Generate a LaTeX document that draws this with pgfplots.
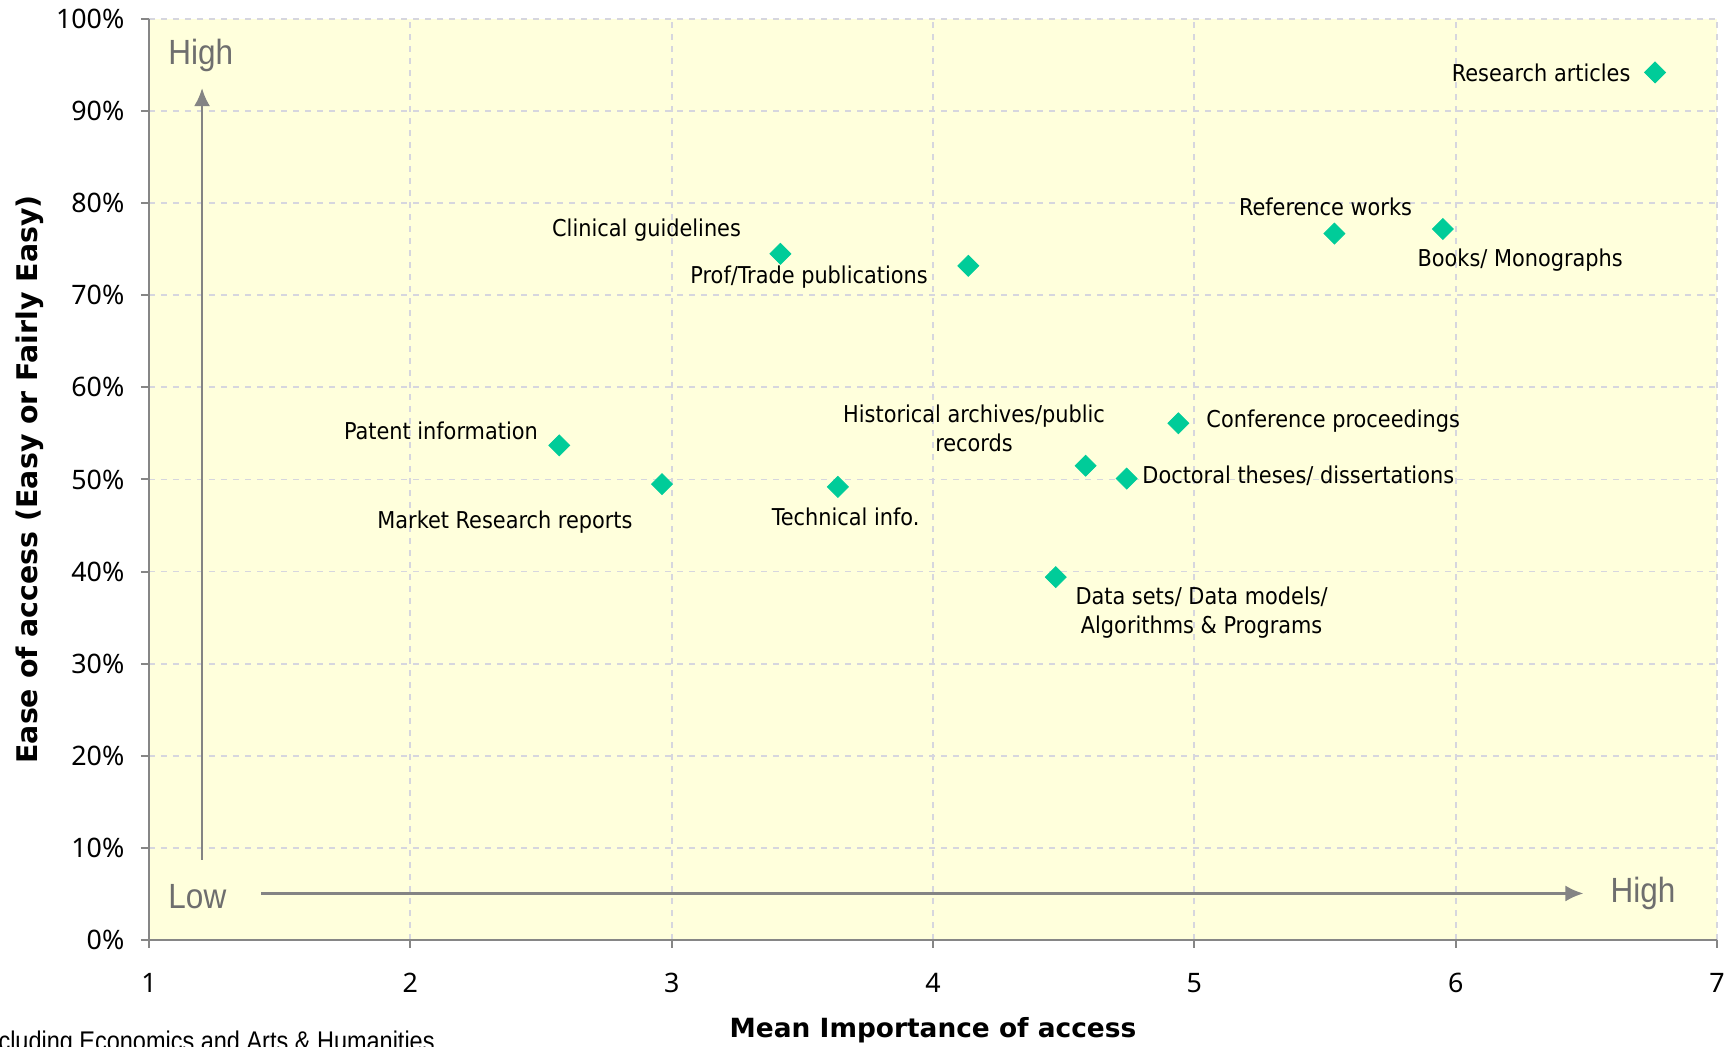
\documentclass[border=0pt]{standalone}
\usepackage{fontspec}
\setmainfont{DejaVu Sans}
\newfontfamily\labelfont{DejaVu Sans Condensed}
\newfontfamily\tickfont{Noto Sans}
\newfontfamily\narrowfont[FakeStretch=0.9]{Liberation Sans}
\newfontfamily\notefont[FakeStretch=0.87]{Liberation Sans}
\usepackage{pgfplots}
\pgfplotsset{compat=1.18}
\usetikzlibrary{arrows.meta}
\definecolor{bgyel}{HTML}{FFFFDC}
\definecolor{mk}{HTML}{00CC99}
\definecolor{axgray}{HTML}{868686}
\definecolor{gridc}{HTML}{D6D6DE}
\definecolor{hl}{HTML}{6E6E6E}

\begin{document}
\begin{tikzpicture}
\begin{axis}[
  at={(0,0)}, anchor=south west,
  scale only axis,
  width=784pt, height=460.5pt,
  xmin=1, xmax=7, ymin=0, ymax=100,
  xtick={1,2,...,7},
  xticklabels={1,2,3,4,5,6,7},
  ytick={0,10,...,100},
  yticklabels={0\%,10\%,20\%,30\%,40\%,50\%,60\%,70\%,80\%,90\%,100\%},
  ticklabel style={font=\tickfont\fontsize{13.4}{15}\selectfont},
  xticklabel style={yshift=-9pt},
  yticklabel style={xshift=-4.8pt},
  axis x line*=bottom, axis y line*=left,
  axis line style={axgray, line width=1.2pt},
  tick align=outside, major tick length=4pt,
  tick style={axgray, line width=1pt},
  grid=major,
  grid style={gridc, dashed, line width=0.9pt},
  axis background/.style={fill=bgyel},
  clip=false,
]
  \addplot[only marks, mark=square*, mark size=3.7pt,
    mark options={rotate=45, fill=mk, draw=mk}] coordinates {
    (6.763,94.2) (5.536,76.7) (5.951,77.2) (3.416,74.5)
    (4.135,73.2) (2.570,53.7) (2.963,49.5) (3.636,49.2)
    (4.584,51.5) (4.741,50.1) (4.939,56.1) (4.470,39.4)
  };

  % quadrant arrows
  \draw[hl!85, line width=1.3pt, -{Latex[length=9pt,width=8pt]}]
    (axis cs:1.203,8.7) -- (axis cs:1.203,92.5);
  \draw[hl!85, line width=1.3pt, -{Latex[length=9pt,width=8pt]}]
    (axis cs:1.429,5.05) -- (axis cs:6.489,5.05);
  \begin{scope}[every node/.style={font=\narrowfont\fontsize{17.5}{20}\selectfont, text=hl, inner sep=0pt}]
    \node[anchor=west] at (axis cs:1.073,96.0) {High};
    \node[anchor=west] at (axis cs:1.073,4.67) {Low};
    \node[anchor=west] at (axis cs:6.591,5.0) {High};
  \end{scope}

  \begin{scope}[every node/.style={font=\labelfont\fontsize{11.6}{14.5}\selectfont, inner sep=0pt, align=center}]
    \node[anchor=east] at (axis cs:6.670,94.2) {Research articles};
    \node at (axis cs:5.502,79.6) {Reference works};
    \node at (axis cs:6.247,73.8) {Books/ Monographs};
    \node at (axis cs:2.904,77.1) {Clinical guidelines};
    \node at (axis cs:3.526,72.0) {Prof/Trade publications};
    \node at (axis cs:2.117,55.3) {Patent information};
    \node at (axis cs:2.362,45.4) {Market Research reports};
    \node at (axis cs:3.666,45.9) {Technical info.};
    \node at (axis cs:4.157,55.5) {Historical archives/public\\records};
    \node[anchor=west] at (axis cs:5.045,56.3) {Conference proceedings};
    \node[anchor=west] at (axis cs:4.800,50.4) {Doctoral theses/ dissertations};
    \node at (axis cs:5.028,35.5) {Data sets/ Data models/\\Algorithms \& Programs};
  \end{scope}
\end{axis}
\node[rotate=90, inner sep=0pt, font=\bfseries\fontsize{14.2}{16}\selectfont] at (-59.5pt,230.25pt)
  {Ease of access (Easy or Fairly Easy)};
\node[inner sep=0pt, font=\bfseries\fontsize{13.2}{15}\selectfont] at (392pt,-45.3pt)
  {Mean Importance of access};
\begin{scope}
  \clip (-74.5pt,-53.5pt) rectangle (143.5pt,-40pt);
  \node[overlay, anchor=north east, inner sep=0pt, font=\notefont\fontsize{13.5}{15}\selectfont]
    at (143pt,-45.5pt) {Excluding Economics and Arts \& Humanities};
\end{scope}
\path (-74.5pt,-53.5pt) rectangle (792.5pt,470pt);
\end{tikzpicture}
\end{document}
